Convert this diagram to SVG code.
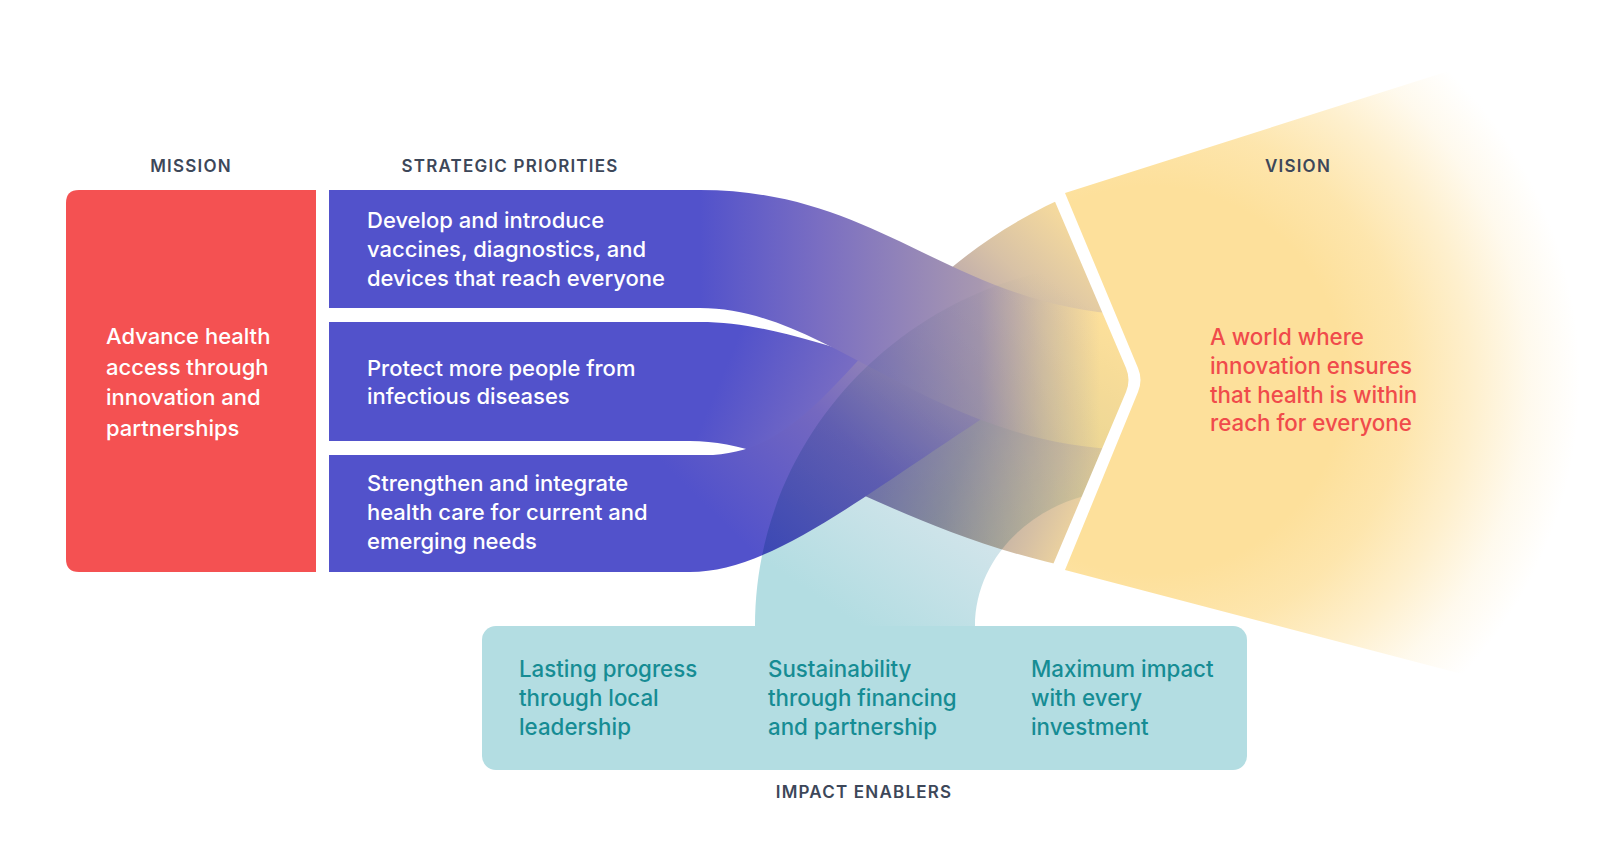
<svg xmlns="http://www.w3.org/2000/svg" width="1600" height="853" viewBox="0 0 1600 853">
<defs>
<style>
.lbl{font-family:Inter,"Liberation Sans",sans-serif;font-size:17px;font-weight:600;fill:#3D4759;letter-spacing:1.2px;text-anchor:middle}
.wt{font-family:Inter,"Liberation Sans",sans-serif;font-size:22px;font-weight:500;fill:#FFFFFF}
.vt{font-family:Inter,"Liberation Sans",sans-serif;font-size:22.3px;font-weight:500;fill:#F04B4B}
.et{font-family:Inter,"Liberation Sans",sans-serif;font-size:22.3px;font-weight:500;fill:#168C94}
</style>
<linearGradient id="gA" gradientUnits="userSpaceOnUse" x1="700" y1="0" x2="1100" y2="0">
<stop offset="0" stop-color="#5252CB"/><stop offset="0.3" stop-color="#7A6EC2"/><stop offset="0.7" stop-color="#A898B0"/><stop offset="0.86" stop-color="#D8C2A4"/><stop offset="1" stop-color="#FDE09B"/>
</linearGradient>
<linearGradient id="gB" gradientUnits="userSpaceOnUse" x1="740" y1="540" x2="1080" y2="200">
<stop offset="0" stop-color="#5252CB"/><stop offset="0.3" stop-color="#7468C0"/><stop offset="0.6" stop-color="#A898B0"/><stop offset="0.8" stop-color="#D8C2A6"/><stop offset="1" stop-color="#FDE09B"/>
</linearGradient>
<linearGradient id="gC" gradientUnits="userSpaceOnUse" x1="720" y1="380" x2="1100" y2="540">
<stop offset="0" stop-color="#5252CB"/><stop offset="0.3" stop-color="#7A6EC2"/><stop offset="0.62" stop-color="#A49AAA"/><stop offset="0.84" stop-color="#D6C0A4"/><stop offset="1" stop-color="#FDE09B"/>
</linearGradient>
<linearGradient id="gArch" gradientUnits="userSpaceOnUse" x1="860" y1="626" x2="1080" y2="300">
<stop offset="0" stop-color="#B3DDE2"/><stop offset="0.35" stop-color="#D0E4EA"/><stop offset="0.7" stop-color="#EEF4F4"/><stop offset="1" stop-color="#FFFFFF"/>
</linearGradient>
<radialGradient id="gV" gradientUnits="userSpaceOnUse" cx="1150" cy="380" r="430">
<stop offset="0" stop-color="#FDE09B" stop-opacity="1"/><stop offset="0.45" stop-color="#FDE09B" stop-opacity="1"/><stop offset="0.6" stop-color="#FDE09B" stop-opacity="0.82"/><stop offset="0.75" stop-color="#FDE09B" stop-opacity="0.5"/><stop offset="0.88" stop-color="#FDE09B" stop-opacity="0.18"/><stop offset="1" stop-color="#FDE09B" stop-opacity="0"/>
</radialGradient>
<clipPath id="chev">
<path d="M0,0 H969 L1053,197 L1126,368 Q1131,380 1126,392 L1052,567 L931,853 H0 Z"/>
</clipPath>
</defs>
<rect width="1600" height="853" fill="#FFFFFF"/>

<g id="vision">
<path d="M1065,193 L1600,23 L1600,710 L1065,570 L1138,392 Q1143,380 1138,368 Z" fill="url(#gV)"/>
<text class="vt" x="1210" y="345">A world where</text>
<text class="vt" x="1210" y="374">innovation ensures</text>
<text class="vt" x="1210" y="403">that health is within</text>
<text class="vt" x="1210" y="431">reach for everyone</text>
</g>

<g id="connectors" clip-path="url(#chev)">
<path id="flow-priority2" d="M329,322 H700 C800,322 900,380 1110,425 H1160 V575 H1110 C900,540 800,441 690,441 H329 Z" fill="url(#gC)"/>
<path id="flow-priority3" d="M329,455 H705 C845,455 870,260 1110,180 H1160 V340 H1110 C900,460 790,572 690,572 H329 Z" fill="url(#gB)"/>
<path id="flow-priority1" d="M329,190 H700 C880,190 950,305 1130,315 H1160 V450 H1130 C930,445 830,308 700,308 H329 Z" fill="url(#gA)"/>
<path id="flow-enablers" d="M755,640 V626 C755,425 923,262 1130,262 H1160 V490 H1130 C1044,490 975,551 975,626 V640 Z" fill="url(#gArch)" style="mix-blend-mode:multiply"/>
</g>

<g id="mission">
<path d="M79,190 H316 V572 H79 Q66,572 66,559 V203 Q66,190 79,190 Z" fill="#F45152"/>
<text class="wt" x="106" y="344">Advance health</text>
<text class="wt" x="106" y="375">access through</text>
<text class="wt" x="106" y="405">innovation and</text>
<text class="wt" x="106" y="436">partnerships</text>
</g>

<g id="priority1">
<text class="wt" x="367" y="228">Develop and introduce</text>
<text class="wt" x="367" y="257">vaccines, diagnostics, and</text>
<text class="wt" x="367" y="286">devices that reach everyone</text>
</g>
<g id="priority2">
<text class="wt" x="367" y="376">Protect more people from</text>
<text class="wt" x="367" y="404">infectious diseases</text>
</g>
<g id="priority3">
<text class="wt" x="367" y="491">Strengthen and integrate</text>
<text class="wt" x="367" y="520">health care for current and</text>
<text class="wt" x="367" y="549">emerging needs</text>
</g>

<g id="enablers">
<rect x="482" y="626" width="765" height="144" rx="14" fill="#B3DDE2"/>
<text class="et" x="519" y="677">Lasting progress</text>
<text class="et" x="519" y="706">through local</text>
<text class="et" x="519" y="735">leadership</text>
<text class="et" x="768" y="677">Sustainability</text>
<text class="et" x="768" y="706">through financing</text>
<text class="et" x="768" y="735">and partnership</text>
<text class="et" x="1031" y="677">Maximum impact</text>
<text class="et" x="1031" y="706">with every</text>
<text class="et" x="1031" y="735">investment</text>
</g>

<g id="labels">
<text class="lbl" x="191" y="172">MISSION</text>
<text class="lbl" x="510" y="172">STRATEGIC PRIORITIES</text>
<text class="lbl" x="1298" y="172">VISION</text>
<text class="lbl" x="864" y="798">IMPACT ENABLERS</text>
</g>
</svg>
